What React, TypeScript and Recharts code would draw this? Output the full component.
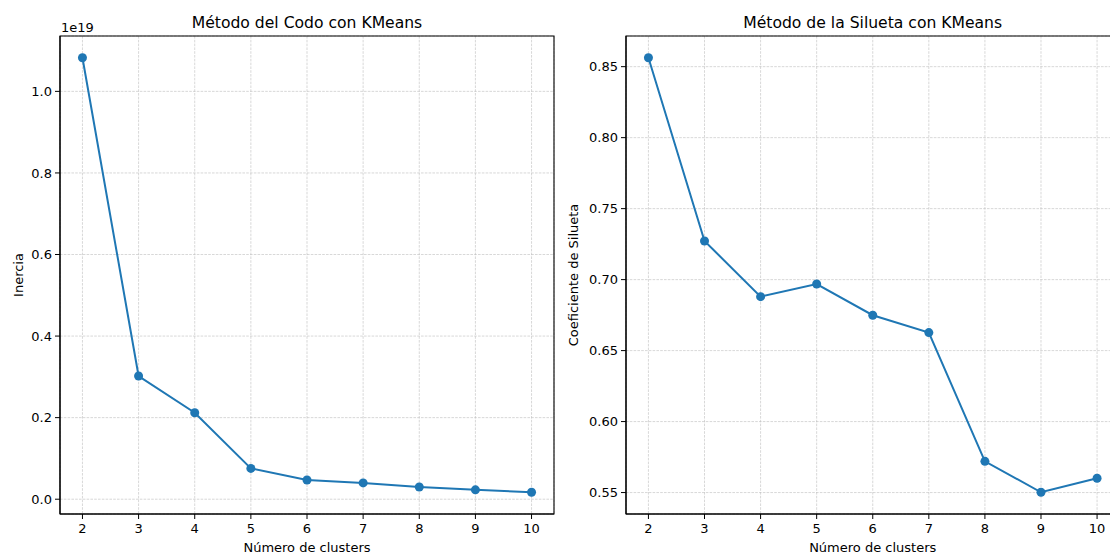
import React from "react";
import { LineChart, Line, XAxis, YAxis, CartesianGrid, ReferenceArea } from "recharts";

const clusters = [2, 3, 4, 5, 6, 7, 8, 9, 10];
const inertia = [1.0825, 0.302, 0.212, 0.0755, 0.047, 0.04, 0.03, 0.023, 0.017]; // x 1e19
const silhouette = [0.8563, 0.7272, 0.688, 0.6969, 0.6749, 0.6627, 0.572, 0.5502, 0.5601];
const inertiaTicks = [0, 0.2, 0.4, 0.6, 0.8, 1.0];
const silTicks = [0.55, 0.6, 0.65, 0.7, 0.75, 0.8, 0.85];
const titles = ["Método del Codo con KMeans", "Método de la Silueta con KMeans"];
const xLabel = "Número de clusters";
const yLabels = ["Inercia", "Coeficiente de Silueta"];

const FONT = "'DejaVu Sans', sans-serif";
const BLUE = "#1f77b4";

const pad = (vals: number[]) => {
  const mn = Math.min(...vals);
  const mx = Math.max(...vals);
  const r = mx - mn;
  return [mn - r * 0.05, mx + r * 0.05];
};
const xDomain = pad(clusters);

const inertiaData = clusters.map((k, i) => ({ k, v: inertia[i] }));
const silData = clusters.map((k, i) => ({ k, v: silhouette[i] }));

function Panel({ data, ticks, digits, marginRight }: { data: { k: number; v: number }[]; ticks: number[]; digits: number; marginRight: number }) {
  const yDomain = pad(data.map((d) => d.v));
  const tickStyle = { fontSize: 13, fill: "#000", fontFamily: FONT };
  return (
    <LineChart width={580} height={553} data={data} margin={{ top: 36, right: marginRight, bottom: 0, left: 0 }}>
      <CartesianGrid stroke="#bdbdbd" strokeWidth={0.6} strokeDasharray="2.6 1.2" />
      <XAxis
        dataKey="k"
        type="number"
        domain={xDomain}
        ticks={clusters}
        allowDataOverflow
        height={39}
        tickSize={5}
        tickMargin={5}
        stroke="#000"
        tick={tickStyle}
        tickLine={{ stroke: "#000", strokeWidth: 1 }}
        axisLine={{ stroke: "#000", strokeWidth: 1.1 }}
      />
      <YAxis
        type="number"
        domain={yDomain}
        ticks={ticks}
        allowDataOverflow
        width={60}
        tickSize={5}
        tickMargin={3}
        tickFormatter={(v: number) => v.toFixed(digits)}
        tick={tickStyle}
        tickLine={{ stroke: "#000", strokeWidth: 1 }}
        axisLine={{ stroke: "#000", strokeWidth: 1.1 }}
      />
      <ReferenceArea
        x1={xDomain[0]}
        x2={xDomain[1]}
        y1={yDomain[0]}
        y2={yDomain[1]}
        fill="none"
        fillOpacity={0}
        stroke="#000"
        strokeWidth={1.1}
        ifOverflow="visible"
      />
      <Line
        dataKey="v"
        stroke={BLUE}
        strokeWidth={2}
        dot={{ r: 4.5, fill: BLUE, stroke: BLUE, strokeWidth: 0 }}
        activeDot={false}
        isAnimationActive={false}
      />
    </LineChart>
  );
}

export default function App() {
  return (
    <div
      style={{
        position: "fixed",
        left: 0,
        top: 0,
        width: 1110,
        height: 553,
        overflow: "hidden",
        background: "#fff",
        fontFamily: FONT,
      }}
    >
      <div style={{ position: "absolute", left: 0, top: 0 }}>
        <Panel data={inertiaData} ticks={inertiaTicks} digits={1} marginRight={26} />
      </div>
      <div style={{ position: "absolute", left: 566, top: 0 }}>
        <Panel data={silData} ticks={silTicks} digits={2} marginRight={26.5} />
      </div>
      <svg
        width={1110}
        height={553}
        style={{ position: "absolute", left: 0, top: 0, pointerEvents: "none" }}
        fontFamily={FONT}
      >
        <text x={307} y={28} fontSize={15.6} textAnchor="middle" fill="#000">{titles[0]}</text>
        <text x={872.7} y={28} fontSize={15.6} textAnchor="middle" fill="#000">{titles[1]}</text>
        <text x={307} y={551.5} fontSize={13} textAnchor="middle" fill="#000">{xLabel}</text>
        <text x={872.7} y={551.5} fontSize={13} textAnchor="middle" fill="#000">{xLabel}</text>
        <text x={61} y={31.5} fontSize={13} textAnchor="start" fill="#000">1e19</text>
        <text transform="translate(23.3,275) rotate(-90)" fontSize={13} textAnchor="middle" fill="#000">{yLabels[0]}</text>
        <text transform="translate(578.3,275) rotate(-90)" fontSize={13} textAnchor="middle" fill="#000">{yLabels[1]}</text>
      </svg>
    </div>
  );
}
